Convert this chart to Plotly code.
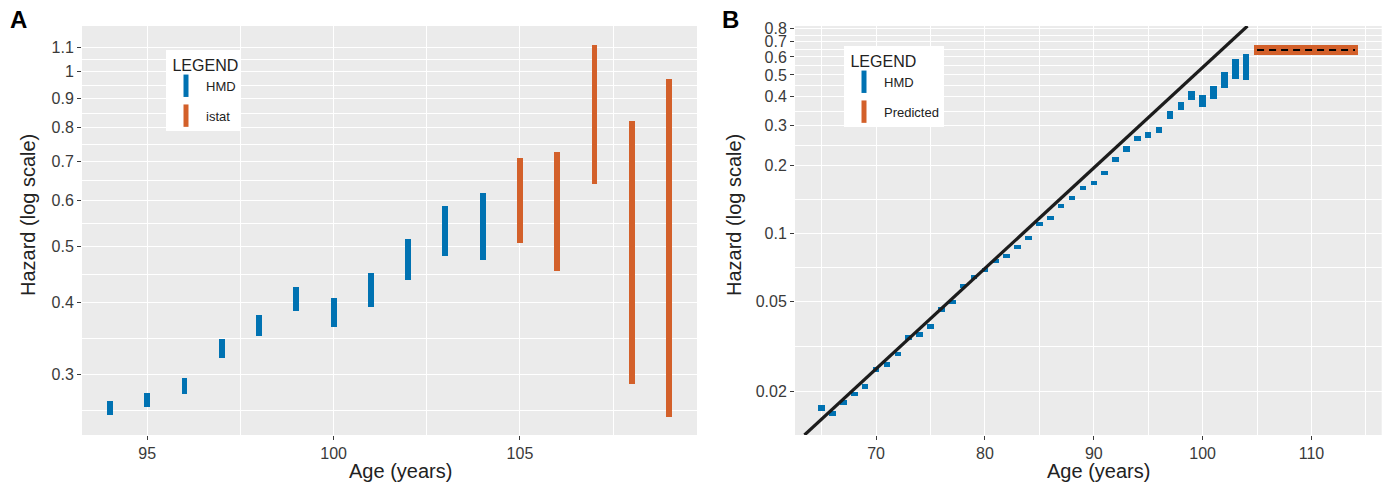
import math
import plotly.graph_objects as go

# ---------------- data ----------------
hmd_age = list(range(65, 105))
hmd_lo = [0.01646, 0.01563, 0.01740, 0.01905, 0.02060, 0.02437, 0.02576, 0.02860, 0.03388, 0.03493,
          0.03801, 0.04504, 0.04890, 0.05723, 0.06262, 0.06732, 0.07369, 0.07792, 0.08496, 0.09378,
          0.1081, 0.1145, 0.1293, 0.1398, 0.1546, 0.1637, 0.1801, 0.2057, 0.2292, 0.2548,
          0.2630, 0.2774, 0.3208, 0.3500, 0.3860, 0.3620, 0.3915, 0.4360, 0.4800, 0.4728]
hmd_hi = [0.01744, 0.01650, 0.01837, 0.02004, 0.02167, 0.02564, 0.02710, 0.03008, 0.03564, 0.03675,
          0.03999, 0.04739, 0.05092, 0.05960, 0.06521, 0.07011, 0.07674, 0.08091, 0.08848, 0.09766,
          0.1126, 0.1192, 0.1347, 0.1456, 0.1615, 0.1710, 0.1890, 0.2171, 0.2419, 0.2698,
          0.2790, 0.2960, 0.3452, 0.3798, 0.4240, 0.4067, 0.4490, 0.5137, 0.5860, 0.6166]

istat_age = [105, 106, 107, 108, 109]
istat_lo = [0.5058, 0.4518, 0.6405, 0.2893, 0.2534]
istat_hi = [0.7102, 0.7255, 1.112, 0.8228, 0.9725]

pred_age = [105, 114]
pred_lo = 0.614
pred_hi = 0.678
pred_mid = 0.644

fit_age = [63.42, 104.12]
fit_hazard = [0.01288, 0.822]

a_min_age = 94
a_yticks = [0.3, 0.4, 0.5, 0.6, 0.7, 0.8, 0.9, 1, 1.1]
a_yticktext = ["0.3", "0.4", "0.5", "0.6", "0.7", "0.8", "0.9", "1", "1.1"]
a_xticks = [95, 100, 105]
b_yticks = [0.02, 0.05, 0.1, 0.2, 0.3, 0.4, 0.5, 0.6, 0.7, 0.8]
b_yticktext = ["0.02", "0.05", "0.1", "0.2", "0.3", "0.4", "0.5", "0.6", "0.7", "0.8"]
b_xticks = [70, 80, 90, 100, 110]

# ---------------- style ----------------
BLUE = "#0072B2"
ORANGE = "#D3602A"
PANEL = "#EBEBEB"
W, H = 1388, 482
FONT = "Liberation Sans, Arial, sans-serif"
TICKCOL = "#3a3a3a"


def minor_between(vals, lo, hi):
    out = []
    lv = [math.log10(v) for v in vals]
    d0 = lv[1] - lv[0]
    ext = [lv[0] - d0] + lv + [lv[-1] + d0]
    for a, b in zip(ext[:-1], ext[1:]):
        m = (a + b) / 2
        if lo < m < hi:
            out.append(10 ** m)
    return out


fig = go.Figure()


def legend_key(name, color, legend, xa, ya):
    fig.add_trace(go.Scatter(
        x=[None], y=[None], mode="markers", name=name, legend=legend,
        legendgroup=legend + name,
        marker=dict(symbol="line-ns", size=19, color=color,
                    line=dict(color=color, width=5)),
        xaxis=xa, yaxis=ya, hoverinfo="skip"))


# ---- Panel A ----
a_idx = [i for i, a in enumerate(hmd_age) if a >= a_min_age]
fig.add_trace(go.Bar(
    x=[hmd_age[i] for i in a_idx],
    base=[hmd_lo[i] for i in a_idx],
    y=[hmd_hi[i] - hmd_lo[i] for i in a_idx],
    width=0.16, marker=dict(color=BLUE, line=dict(width=0)),
    name="HMD", xaxis="x", yaxis="y", showlegend=False))
fig.add_trace(go.Bar(
    x=istat_age, base=istat_lo,
    y=[h - l for h, l in zip(istat_hi, istat_lo)],
    width=0.16, marker=dict(color=ORANGE, line=dict(width=0)),
    name="istat", xaxis="x", yaxis="y", showlegend=False))
legend_key("HMD", BLUE, "legend", "x", "y")
legend_key("istat", ORANGE, "legend", "x", "y")

# ---- Panel B ----
fig.add_trace(go.Bar(
    x=hmd_age, base=hmd_lo,
    y=[h - l for h, l in zip(hmd_hi, hmd_lo)],
    width=0.6, marker=dict(color=BLUE, line=dict(width=0)),
    name="HMD", xaxis="x2", yaxis="y2", showlegend=False))
fig.add_trace(go.Bar(
    x=[(pred_age[0] + pred_age[1]) / 2], base=[pred_lo], y=[pred_hi - pred_lo],
    width=[pred_age[1] - pred_age[0] + 0.6],
    marker=dict(color=ORANGE, line=dict(width=0)),
    name="Predicted", xaxis="x2", yaxis="y2", showlegend=False))
fig.add_trace(go.Scatter(
    x=fit_age, y=fit_hazard, mode="lines",
    line=dict(color="#1c1c1c", width=3.2),
    showlegend=False, xaxis="x2", yaxis="y2"))
fig.add_trace(go.Scatter(
    x=pred_age, y=[pred_mid, pred_mid], mode="lines",
    line=dict(color="black", width=2, dash="7px,5px"),
    showlegend=False, xaxis="x2", yaxis="y2"))
legend_key("HMD", BLUE, "legend2", "x2", "y2")
legend_key("Predicted", ORANGE, "legend2", "x2", "y2")

# ---- layout ----
yd = [1 - 435 / H, 1 - 26 / H]
a_xd = [82 / W, 697 / W]
b_xd = [795 / W, 1381.7 / W]

a_yr = [math.log10(0.2357), math.log10(1.2)]
b_yr = [math.log10(0.01288), math.log10(0.822)]

common_axis = dict(
    showline=False, zeroline=False, ticks="outside", ticklen=4, tickwidth=1,
    tickcolor=TICKCOL, tickfont=dict(family=FONT, size=16, color=TICKCOL),
    showgrid=True, gridcolor="white", gridwidth=1.4, automargin=False,
)
minor_style = dict(showgrid=True, gridcolor="white", gridwidth=0.7, ticklen=0)

leg_common = dict(xanchor="left", yanchor="top", bgcolor="white", borderwidth=0,
                  itemsizing="trace", traceorder="grouped", tracegroupgap=10,
                  font=dict(family=FONT, size=13, color="#222"))

fig.update_layout(
    width=W, height=H,
    margin=dict(l=0, r=0, t=0, b=0),
    paper_bgcolor="white", plot_bgcolor=PANEL,
    barmode="overlay", bargap=0,
    font=dict(family=FONT, color="#222"),
    xaxis=dict(domain=a_xd, anchor="y", range=[93.25, 109.75],
               tickvals=a_xticks, ticktext=[str(v) for v in a_xticks],
               minor=dict(tickvals=[97.5, 102.5, 107.5], **minor_style), **common_axis),
    yaxis=dict(domain=yd, anchor="x", type="log", range=a_yr,
               tickvals=a_yticks, ticktext=a_yticktext,
               minor=dict(tickvals=minor_between(a_yticks, a_yr[0], a_yr[1]), **minor_style),
               **common_axis),
    xaxis2=dict(domain=b_xd, anchor="y2", range=[62.55, 116.45],
                tickvals=b_xticks, ticktext=[str(v) for v in b_xticks],
                minor=dict(tickvals=[65, 75, 85, 95, 105, 115], **minor_style), **common_axis),
    yaxis2=dict(domain=yd, anchor="x2", type="log", range=b_yr,
                tickvals=b_yticks, ticktext=b_yticktext,
                minor=dict(tickvals=minor_between(b_yticks, b_yr[0], b_yr[1]), **minor_style),
                **common_axis),
    legend=dict(x=166 / W, y=1 - 50 / H,
                title=dict(text=" LEGEND", font=dict(family=FONT, size=16, color="#222")),
                **leg_common),
    legend2=dict(x=844 / W, y=1 - 46 / H,
                 title=dict(text=" LEGEND", font=dict(family=FONT, size=16, color="#222")),
                 **leg_common),
)

ann = []
for cx, lab in [(400, "Age (years)"), (1098, "Age (years)")]:
    ann.append(dict(x=cx / W, y=1 - 471 / H, xref="paper", yref="paper", text=lab,
                    showarrow=False, font=dict(family=FONT, size=20, color="#222"),
                    xanchor="center", yanchor="middle"))
for cx in [28, 734]:
    ann.append(dict(x=cx / W, y=1 - 215 / H, xref="paper", yref="paper",
                    text="Hazard (log scale)", textangle=-90, showarrow=False,
                    font=dict(family=FONT, size=20, color="#222"),
                    xanchor="center", yanchor="middle"))
for cx, lab in [(18, "A"), (730, "B")]:
    ann.append(dict(x=cx / W, y=1 - 20 / H, xref="paper", yref="paper",
                    text="<b>" + lab + "</b>", showarrow=False,
                    font=dict(family="Liberation Sans Narrow, Liberation Sans, Arial", size=24, color="black"),
                    xanchor="center", yanchor="middle"))
fig.update_layout(annotations=ann)

fig.write_html("out.html", config={"displayModeBar": False},
               post_script="document.body.style.margin='0';document.body.style.overflow='hidden';")
